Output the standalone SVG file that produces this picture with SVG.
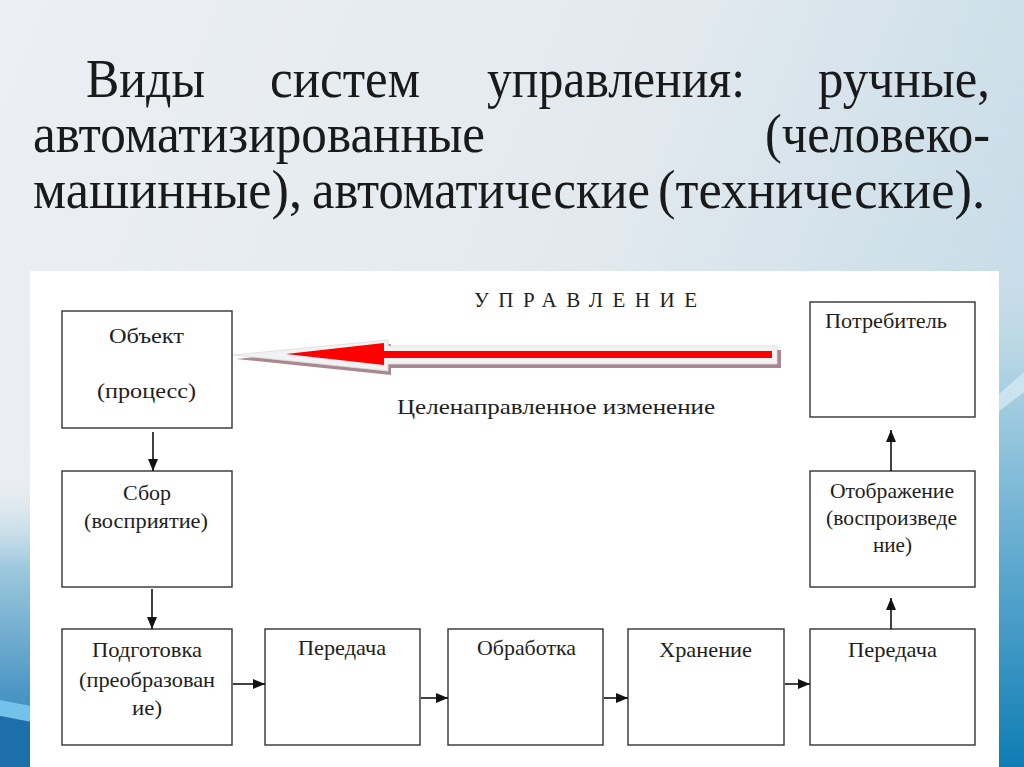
<svg xmlns="http://www.w3.org/2000/svg" width="1024" height="767" viewBox="0 0 1024 767">
  <defs>
    <linearGradient id="bg" x1="0" y1="0" x2="1" y2="0.3">
      <stop offset="0" stop-color="#eceff3"/>
      <stop offset="0.6" stop-color="#e3eaef"/>
      <stop offset="1" stop-color="#c9dde8"/>
    </linearGradient>
    <linearGradient id="leftStrip" x1="0" y1="0" x2="0" y2="1">
      <stop offset="0" stop-color="#d6e6ee" stop-opacity="0"/>
      <stop offset="0.3" stop-color="#9fc9de"/>
      <stop offset="0.75" stop-color="#4a95c4"/>
      <stop offset="1" stop-color="#2d82b9"/>
    </linearGradient>
    <linearGradient id="rightStrip" x1="0" y1="0" x2="0" y2="1">
      <stop offset="0" stop-color="#c8dde8" stop-opacity="0"/>
      <stop offset="0.25" stop-color="#a9d0e2"/>
      <stop offset="0.6" stop-color="#5ea9cf"/>
      <stop offset="1" stop-color="#0f7db3"/>
    </linearGradient>
    <marker id="ah" markerUnits="userSpaceOnUse" markerWidth="12" markerHeight="10" refX="12" refY="5" orient="auto">
      <path d="M0,0 L12,5 L0,10 z" fill="#111"/>
    </marker>
    <style>
      text { font-family: 'Liberation Serif', 'DejaVu Serif', 'Times New Roman', serif; }
      .title { font-size: 54px; fill: #1a1a1a; }
      .lbl { font-size: 21px; fill: #1e1e1e; }
      .box { fill: #ffffff; stroke: #333333; stroke-width: 1.4; }
      .conn { stroke: #111111; stroke-width: 1.6; fill: none; marker-end: url(#ah); }
    </style>
  </defs>

  <!-- background -->
  <rect x="0" y="0" width="1024" height="767" fill="url(#bg)"/>
  <rect x="0" y="480" width="31" height="287" fill="url(#leftStrip)"/>
  <polygon points="0,700 31,706 31,722 0,716" fill="#72c2ea"/>
  <polygon points="0,716 31,722 31,767 0,767" fill="#1c6fab"/>
  <rect x="998" y="260" width="26" height="507" fill="url(#rightStrip)"/>
  <polygon points="998,395 1024,372 1024,392 998,412" fill="#d5e9f2" opacity="0.8"/>

  <!-- title -->
  <g id="title" font-family="Liberation Serif, DejaVu Serif, serif">
    <text class="title" x="86" y="97" textLength="119" lengthAdjust="spacingAndGlyphs">Виды</text>
    <text class="title" x="270" y="97" textLength="150" lengthAdjust="spacingAndGlyphs">систем</text>
    <text class="title" x="487" y="97" textLength="258" lengthAdjust="spacingAndGlyphs">управления:</text>
    <text class="title" x="818" y="97" textLength="172" lengthAdjust="spacingAndGlyphs">ручные,</text>
    <text class="title" x="33" y="152" textLength="452" lengthAdjust="spacingAndGlyphs">автоматизированные</text>
    <text class="title" x="765" y="152" textLength="225" lengthAdjust="spacingAndGlyphs">(человеко-</text>
    <text class="title" x="33" y="208" textLength="269" lengthAdjust="spacingAndGlyphs">машинные),</text>
    <text class="title" x="312" y="208" textLength="338" lengthAdjust="spacingAndGlyphs">автоматические</text>
    <text class="title" x="658" y="208" textLength="327" lengthAdjust="spacingAndGlyphs">(технические).</text>
  </g>

  <!-- white panel -->
  <rect x="30" y="271" width="969" height="496" fill="#ffffff"/>

  <!-- header labels -->
  <g id="header">
    <text class="lbl" x="474" y="307" font-size="19" fill="#333" textLength="223" lengthAdjust="spacing">УПРАВЛЕНИЕ</text>
    <text class="lbl" x="397" y="414" font-size="23" textLength="318" lengthAdjust="spacingAndGlyphs">Целенаправленное изменение</text>
  </g>

  <!-- big red arrow -->
  <g id="control-arrow">
    <polygon points="236,359 391,344 391,350 781,350 781,368 391,368 391,375" fill="#a8888e"/>
    <polygon points="233,355 388,340 388,346 777,346 777,364 388,364 388,371" fill="#f2f2f4" stroke="#dcdcdc" stroke-width="0.8"/>
    <polygon points="286,354 384,343 384,351 772,351 772,358 384,358 384,365" fill="#ff0000"/>
  </g>

  <!-- nodes -->
  <g id="node-object">
    <rect class="box" x="62" y="311" width="170" height="117"/>
    <text class="lbl" x="109" y="343" textLength="75" lengthAdjust="spacingAndGlyphs">Объект</text>
    <text class="lbl" x="97" y="398" textLength="99" lengthAdjust="spacingAndGlyphs">(процесс)</text>
  </g>
  <g id="node-sbor">
    <rect class="box" x="62" y="471" width="170" height="116"/>
    <text class="lbl" x="123" y="500" textLength="48" lengthAdjust="spacingAndGlyphs">Сбор</text>
    <text class="lbl" x="84" y="528" textLength="124" lengthAdjust="spacingAndGlyphs">(восприятие)</text>
  </g>
  <g id="node-podgotovka">
    <rect class="box" x="62" y="629" width="170" height="116"/>
    <text class="lbl" x="92" y="657" textLength="110" lengthAdjust="spacingAndGlyphs">Подготовка</text>
    <text class="lbl" x="79" y="687" textLength="136" lengthAdjust="spacingAndGlyphs">(преобразован</text>
    <text class="lbl" x="132" y="715" textLength="30" lengthAdjust="spacingAndGlyphs">ие)</text>
  </g>
  <g id="node-peredacha1">
    <rect class="box" x="265" y="629" width="155" height="116"/>
    <text class="lbl" x="298" y="655" textLength="88" lengthAdjust="spacingAndGlyphs">Передача</text>
  </g>
  <g id="node-obrabotka">
    <rect class="box" x="448" y="629" width="155" height="116"/>
    <text class="lbl" x="477" y="655" textLength="99" lengthAdjust="spacingAndGlyphs">Обработка</text>
  </g>
  <g id="node-hranenie">
    <rect class="box" x="628" y="629" width="156" height="116"/>
    <text class="lbl" x="659" y="657" textLength="93" lengthAdjust="spacingAndGlyphs">Хранение</text>
  </g>
  <g id="node-peredacha2">
    <rect class="box" x="810" y="629" width="165" height="116"/>
    <text class="lbl" x="848" y="657" textLength="89" lengthAdjust="spacingAndGlyphs">Передача</text>
  </g>
  <g id="node-otobrazhenie">
    <rect class="box" x="810" y="471" width="165" height="116"/>
    <text class="lbl" x="830" y="498" textLength="124" lengthAdjust="spacingAndGlyphs">Отображение</text>
    <text class="lbl" x="826" y="525" textLength="131" lengthAdjust="spacingAndGlyphs">(воспроизведе</text>
    <text class="lbl" x="873" y="552" textLength="39" lengthAdjust="spacingAndGlyphs">ние)</text>
  </g>
  <g id="node-potrebitel">
    <rect class="box" x="810" y="302" width="165" height="115"/>
    <text class="lbl" x="825" y="328" textLength="122" lengthAdjust="spacingAndGlyphs">Потребитель</text>
  </g>

  <!-- connectors -->
  <g id="connectors">
    <path class="conn" d="M153,432 V471"/>
    <path class="conn" d="M152,589 V629"/>
    <path class="conn" d="M233,684 H265"/>
    <path class="conn" d="M421,698 H448"/>
    <path class="conn" d="M604,698 H628"/>
    <path class="conn" d="M785,684 H810"/>
    <path class="conn" d="M891,629 V598"/>
    <path class="conn" d="M891,471 V430"/>
  </g>
</svg>
